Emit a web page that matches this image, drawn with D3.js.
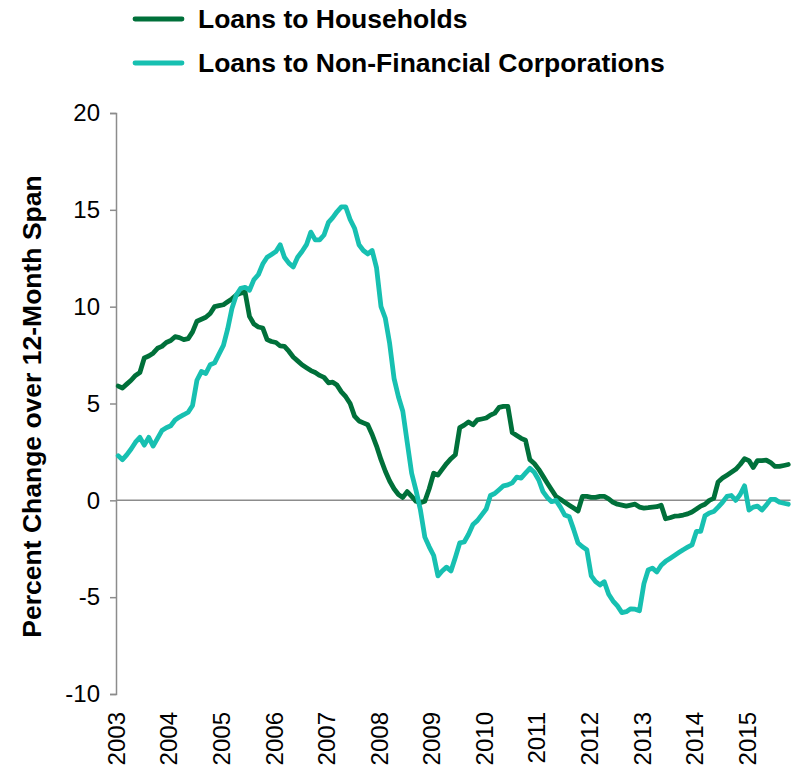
<!DOCTYPE html>
<html>
<head>
<meta charset="utf-8">
<script src="https://cdn.jsdelivr.net/npm/d3@7/dist/d3.min.js"></script>
<style>
  html, body { margin: 0; padding: 0; background: #ffffff; }
  svg { display: block; font-family: "Liberation Sans", Arial, sans-serif; }
</style>
</head>
<body>
<svg id="chart" width="792" height="772"></svg>
<script>
// Monthly observations, January 2003 through October 2015
const firstMonth = new Date(2003, 0, 1);
const monthCount = 154;

// Year-over-year growth, loans to households (%)
const households = [
  5.9, 5.8, 6.0, 6.2, 6.45, 6.6, 7.35, 7.45, 7.6, 7.85, 7.95, 8.15,
  8.25, 8.45, 8.4, 8.3, 8.35, 8.7, 9.25, 9.35, 9.45, 9.65, 10.0, 10.05,
  10.1, 10.25, 10.4, 10.6, 10.7, 10.75, 9.5, 9.1, 8.95, 8.9, 8.3, 8.2,
  8.15, 7.97, 7.95, 7.7, 7.4, 7.2, 7.0, 6.85, 6.7, 6.6, 6.45, 6.35,
  6.07, 6.1, 5.95, 5.6, 5.35, 5.0, 4.35, 4.1, 4.0, 3.9, 3.4, 2.8,
  2.1, 1.5, 1.0, 0.6, 0.3, 0.15, 0.45, 0.2, -0.05, -0.12, -0.05, 0.6,
  1.4, 1.3, 1.6, 1.9, 2.15, 2.35, 3.75, 3.88, 4.05, 3.9, 4.15, 4.2,
  4.25, 4.4, 4.5, 4.8, 4.85, 4.85, 3.5, 3.35, 3.2, 3.1, 2.1, 1.9,
  1.6, 1.25, 0.9, 0.55, 0.2, 0.05, -0.1, -0.25, -0.4, -0.55, 0.2, 0.2,
  0.15, 0.15, 0.2, 0.2, 0.08, -0.1, -0.2, -0.25, -0.3, -0.25, -0.2, -0.35,
  -0.4, -0.38, -0.35, -0.33, -0.25, -0.95, -0.9, -0.82, -0.8, -0.76, -0.7, -0.6,
  -0.45, -0.3, -0.2, 0.0, 0.1, 0.95, 1.15, 1.3, 1.45, 1.6, 1.85, 2.15,
  2.05, 1.7, 2.05, 2.05, 2.08, 1.95, 1.75, 1.75, 1.8, 1.85
];

// Year-over-year growth, loans to non-financial corporations (%)
const corporations = [
  2.3, 2.1, 2.35, 2.65, 3.0, 3.25, 2.85, 3.25, 2.8, 3.2, 3.6, 3.75,
  3.85, 4.15, 4.3, 4.42, 4.55, 4.9, 6.2, 6.65, 6.55, 7.0, 7.1, 7.55,
  8.0, 8.85, 9.9, 10.6, 10.95, 11.0, 10.85, 11.4, 11.65, 12.2, 12.55, 12.7,
  12.85, 13.2, 12.55, 12.25, 12.05, 12.55, 12.85, 13.2, 13.85, 13.45, 13.45, 13.7,
  14.35, 14.6, 14.9, 15.15, 15.15, 14.5, 14.05, 13.2, 12.9, 12.72, 12.9, 12.0,
  10.0, 9.4, 8.1, 6.3, 5.35, 4.6, 3.0, 1.4, 0.5, -0.5, -1.9, -2.4,
  -2.85, -3.9, -3.65, -3.45, -3.65, -2.95, -2.2, -2.15, -1.75, -1.25, -1.05, -0.75,
  -0.45, 0.25, 0.35, 0.55, 0.75, 0.8, 0.9, 1.2, 1.15, 1.4, 1.65, 1.45,
  1.05, 0.45, 0.15, -0.07, 0.0, -0.35, -0.76, -0.85, -1.5, -2.2, -2.4, -2.55,
  -3.9, -4.2, -4.37, -4.2, -4.85, -5.2, -5.45, -5.8, -5.75, -5.6, -5.62, -5.7,
  -4.3, -3.6, -3.5, -3.7, -3.35, -3.15, -3.0, -2.85, -2.7, -2.55, -2.42, -2.3,
  -1.6, -1.6, -0.8, -0.65, -0.58, -0.35, -0.1, 0.2, 0.25, 0.0, 0.3, 0.75,
  -0.5, -0.35, -0.3, -0.5, -0.25, 0.05, 0.05, -0.1, -0.15, -0.2
];

const yearLabels = ["2003", "2004", "2005", "2006", "2007", "2008", "2009",
                    "2010", "2011", "2012", "2013", "2014", "2015"];
const yTicks = [-10, -5, 0, 5, 10, 15, 20];
const yTickLabels = ["-10", "-5", "0", "5", "10", "15", "20"];

const seriesNames = ["Loans to Households", "Loans to Non-Financial Corporations"];
const seriesColors = ["#00703a", "#17c0b1"];

const months = d3.timeMonth.range(firstMonth, d3.timeMonth.offset(firstMonth, monthCount));
const series = [
  { name: seriesNames[0], color: seriesColors[0], values: households },
  { name: seriesNames[1], color: seriesColors[1], values: corporations }
];

const svg = d3.select("#chart");
const plot = { left: 116, right: 790.5, top: 113, bottom: 694 };

const x = d3.scaleTime()
  .domain([firstMonth, d3.timeMonth.offset(firstMonth, monthCount)])
  .range([plot.left, plot.right]);
const y = d3.scaleLinear().domain([-10, 20]).range([plot.bottom, plot.top]);

// each monthly point sits in the middle of its month
const midMonth = d => new Date(d.getTime() + (d3.timeMonth.offset(d, 1) - d) / 2);

// y axis
const yAxis = svg.append("g")
  .attr("transform", `translate(${plot.left},0)`)
  .call(d3.axisLeft(y).tickValues(yTicks).tickSize(6).tickPadding(10)
    .tickFormat((d, i) => yTickLabels[i]));
yAxis.select(".domain").attr("stroke", "#8c8c8c").attr("stroke-width", 1.5);
yAxis.selectAll(".tick line").attr("stroke", "#8c8c8c").attr("stroke-width", 1.5);
yAxis.selectAll(".tick text")
  .attr("fill", "#000").style("font-size", "24px").style("font-family", "'Liberation Sans', Arial, sans-serif");

// horizontal axis along zero, labels below the plot
svg.append("line")
  .attr("x1", plot.left).attr("x2", plot.right)
  .attr("y1", y(0)).attr("y2", y(0))
  .attr("stroke", "#8c8c8c").attr("stroke-width", 1.5);

const yearDates = yearLabels.map(s => new Date(+s, 0, 1));
const xAxis = svg.append("g")
  .attr("transform", `translate(0,${plot.bottom})`)
  .call(d3.axisBottom(x).tickValues(yearDates).tickSize(0).tickFormat((d, i) => yearLabels[i]));
xAxis.select(".domain").remove();
xAxis.selectAll(".tick text")
  .attr("fill", "#000")
  .style("font-size", "24px")
  .style("font-family", "'Liberation Sans', Arial, sans-serif")
  .attr("text-anchor", "end")
  .attr("dy", "0.35em")
  .attr("transform", "translate(0,18) rotate(-90)")
  .attr("x", 0).attr("y", 0);

// y axis title
svg.append("text")
  .attr("transform", `translate(41,${(plot.top + plot.bottom) / 2 + 3}) rotate(-90)`)
  .attr("text-anchor", "middle")
  .style("font-size", "26.5px").style("font-weight", "bold")
  .text("Percent Change over 12-Month Span");

// lines
const line = d3.line()
  .x((v, i) => x(midMonth(months[i])))
  .y(v => y(v))
  .curve(d3.curveLinear);

svg.append("g").selectAll("path")
  .data(series)
  .join("path")
  .attr("d", d => line(d.values))
  .attr("fill", "none")
  .attr("stroke", d => d.color)
  .attr("stroke-width", 4.8)
  .attr("stroke-linejoin", "round")
  .attr("stroke-linecap", "round");

// legend
const legend = svg.append("g");
series.forEach((s, i) => {
  const ly = 19 + i * 44;
  legend.append("line")
    .attr("x1", 135).attr("x2", 182).attr("y1", ly).attr("y2", ly)
    .attr("stroke", s.color).attr("stroke-width", 4.8).attr("stroke-linecap", "round");
  legend.append("text")
    .attr("x", 198).attr("y", ly).attr("dy", "0.35em")
    .style("font-size", "26.5px").style("font-weight", "bold")
    .text(s.name);
});
</script>
</body>
</html>
